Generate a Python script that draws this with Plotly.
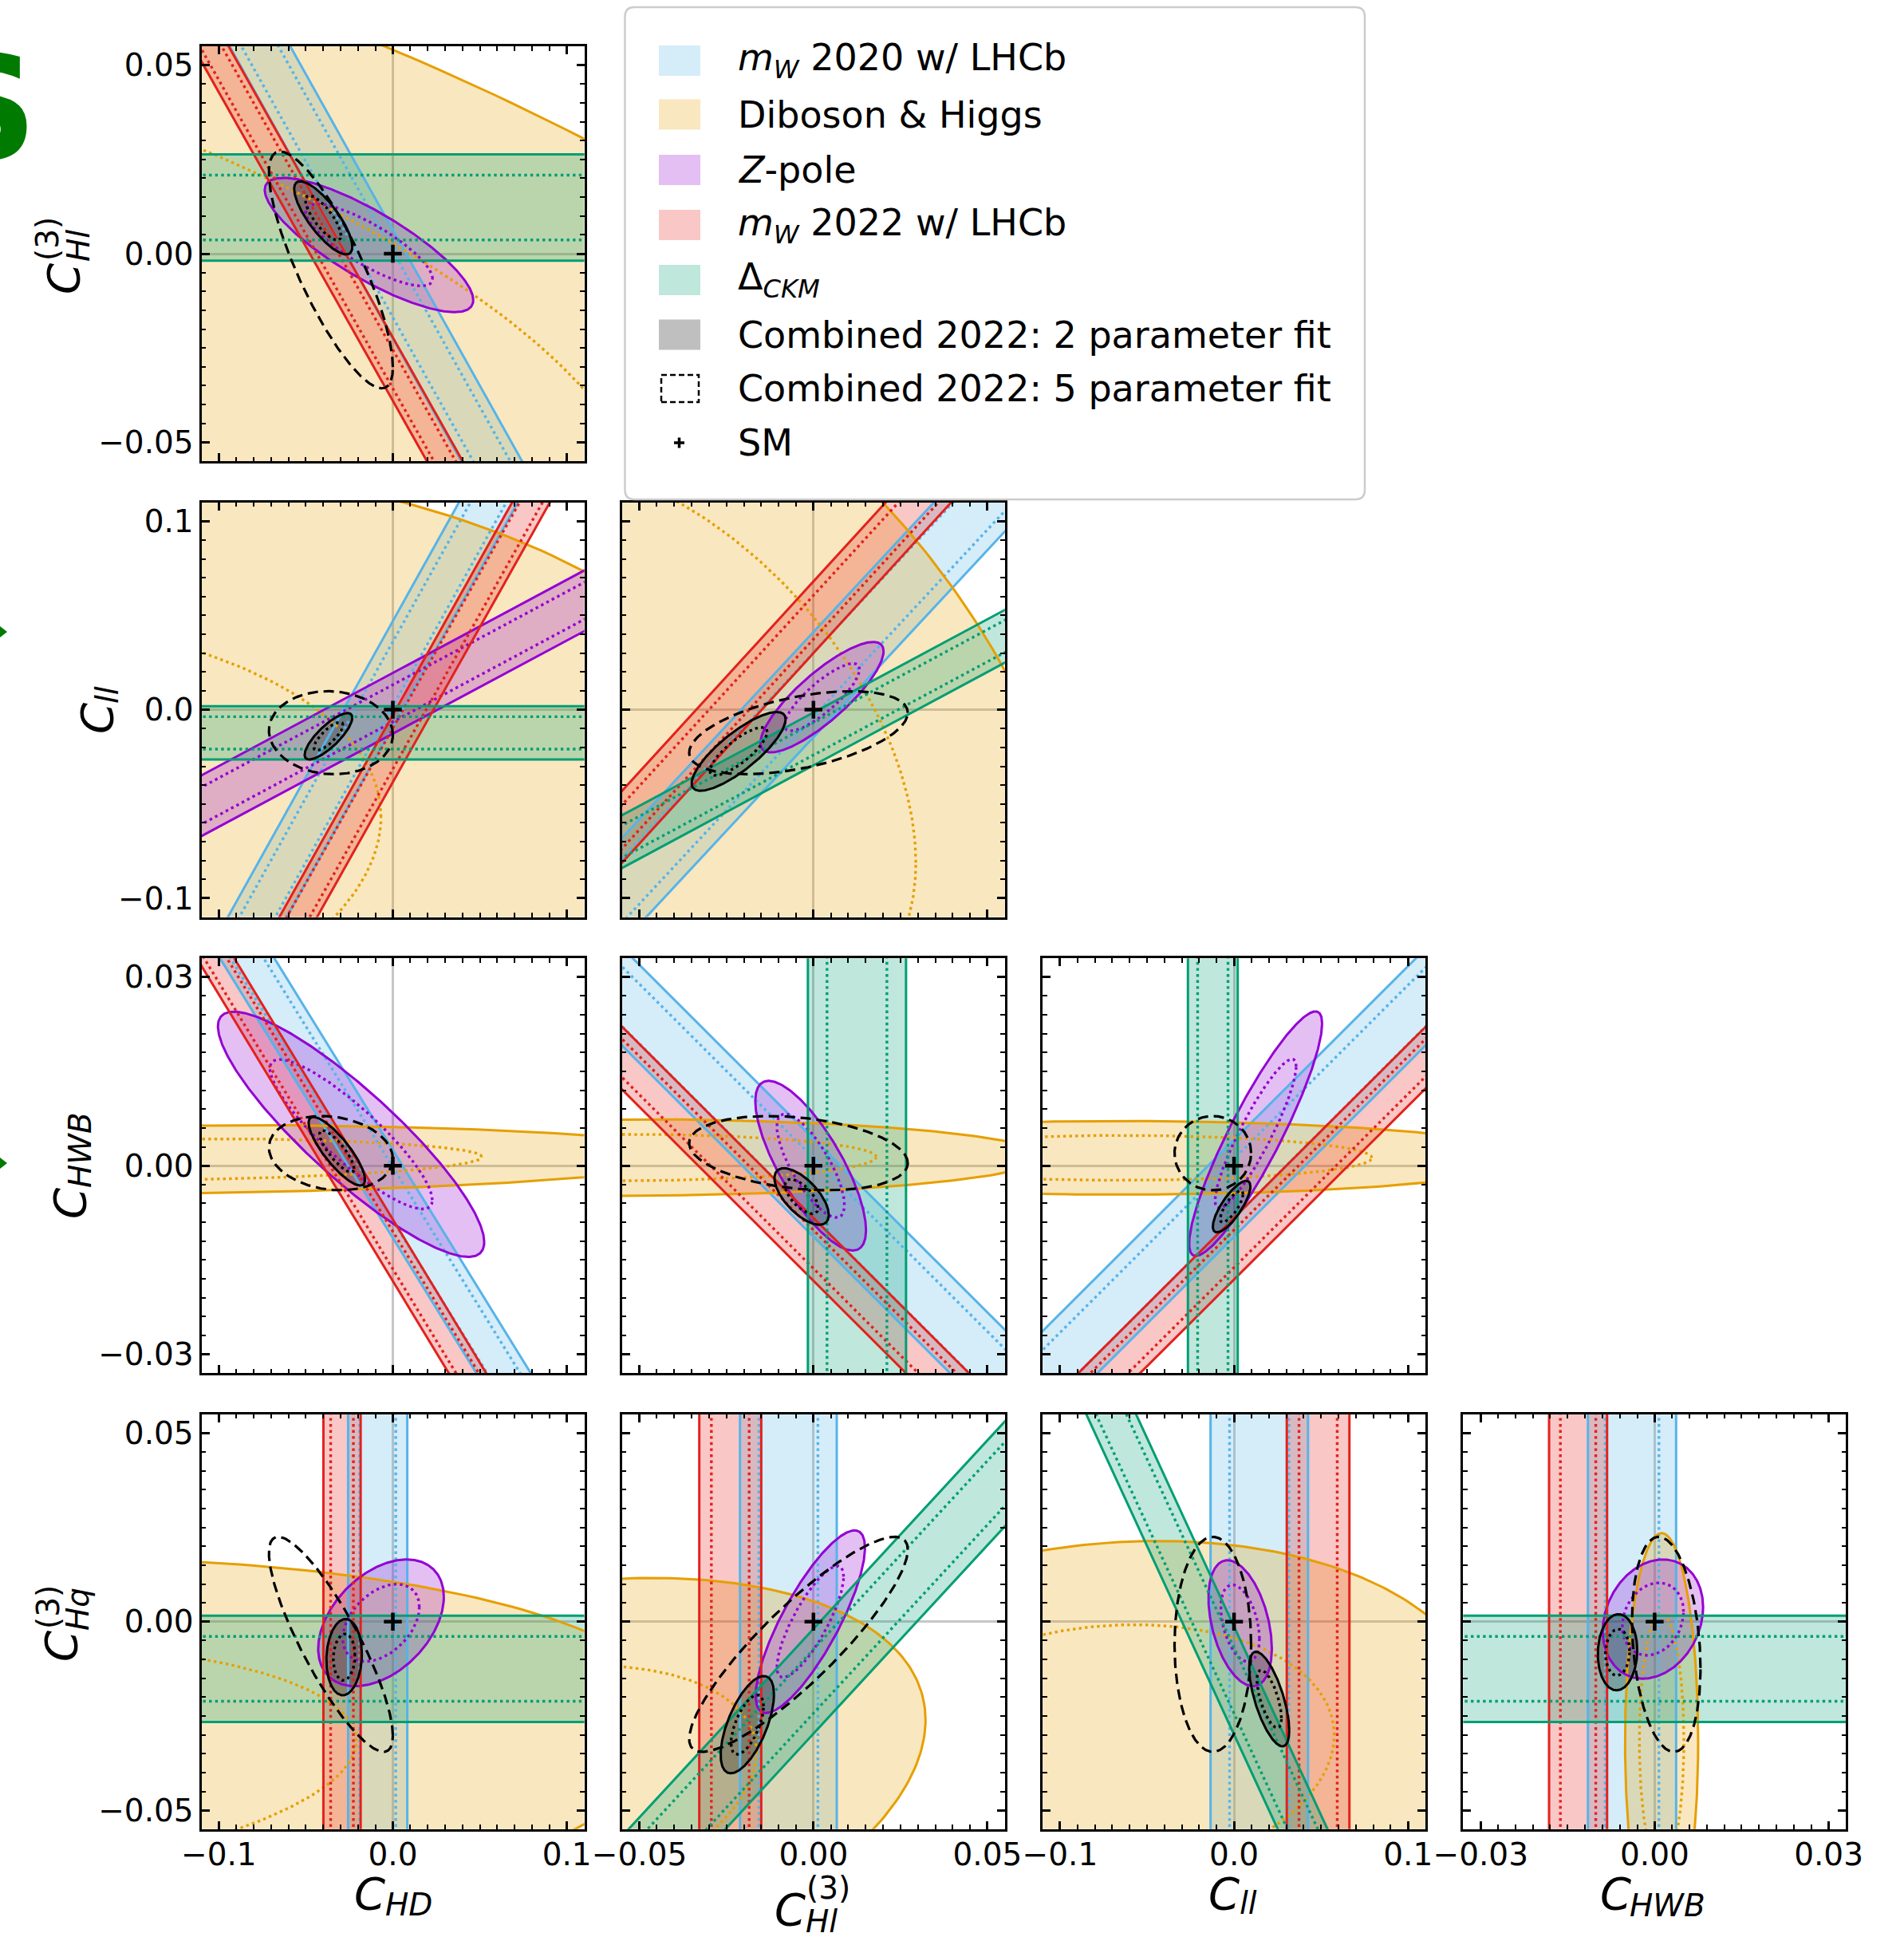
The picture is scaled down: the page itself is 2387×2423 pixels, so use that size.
import numpy as np
import plotly.graph_objects as go

FIG_W, FIG_H = 2387, 2423

# ---------------- axes / parameters ----------------
PARAM_NAMES = ["C_HD", "C_Hl3", "C_ll", "C_HWB", "C_Hq3"]
HALF_RANGE = [0.11, 0.055, 0.11, 0.033, 0.055]
MAJOR_TICKS = [[-0.1, 0.0, 0.1], [-0.05, 0.0, 0.05], [-0.1, 0.0, 0.1],
               [-0.03, 0.0, 0.03], [-0.05, 0.0, 0.05]]
MAJOR_TICK_LABELS = [["−0.1", "0.0", "0.1"], ["−0.05", "0.00", "0.05"],
                     ["−0.1", "0.0", "0.1"], ["−0.03", "0.00", "0.03"],
                     ["−0.05", "0.00", "0.05"]]
MINOR_STEP = [0.01, 0.005, 0.01, 0.003, 0.005]

COL_LEFT = [252.5, 779.8, 1307.1, 1834.4]
ROW_TOP = [58.0, 629.6, 1201.2, 1772.8]
PANEL_W, PANEL_H = 480.0, 520.0

INNER_SCALE = 0.61   # 68% contour relative to 95% contour

COL_MW20 = "#56B4E9"
COL_DIB = "#E69F00"
COL_Z = "#9400D3"
COL_MW22 = "#E3211C"
COL_CKM = "#009E73"
COL_COMB = "#000000"

# ---------------- data (keys: (x-param index, y-param index)) ----------------
# bands: (slope, intercept, half-width) ; slope None -> vertical band (centre, half-width)
MW2020_BANDS = {
    (0, 1): (-0.826, -0.0081, 0.0144),
    (0, 2): (1.656, 0.0190, 0.0280),
    (1, 2): (1.985, 0.0133, 0.0279),
    (0, 3): (-0.448, -0.0045, 0.0070),
    (1, 3): (-0.553, -0.0035, 0.0078),
    (2, 3): (0.2765, -0.0036, 0.0077),
    (0, 4): (None, -0.0087, 0.0170),
    (1, 4): (None, -0.0072, 0.0139),
    (2, 4): (None, 0.0145, 0.0280),
    (3, 4): (None, -0.0039, 0.0076),
}
MW2022_BANDS = {
    (0, 1): (-0.818, -0.0306, 0.0084),
    (0, 2): (1.644, -0.0206, 0.0178),
    (1, 2): (2.02, 0.0490, 0.0190),
    (0, 3): (-0.456, -0.01345, 0.0049),
    (1, 3): (-0.553, -0.0133, 0.0050),
    (2, 3): (0.276, -0.0132, 0.0049),
    (0, 4): (None, -0.0292, 0.0107),
    (1, 4): (None, -0.0239, 0.0089),
    (2, 4): (None, 0.0483, 0.0180),
    (3, 4): (None, -0.0132, 0.0050),
}
CKM_BANDS = {
    (0, 1): (0.0, 0.01225, 0.0141),
    (0, 2): (0.0, -0.0123, 0.0141),
    (1, 2): (0.99, -0.0155, 0.0140),
    (1, 3): (None, 0.0125, 0.0141),
    (2, 3): (None, -0.0122, 0.0143),
    (0, 4): (0.0, -0.0125, 0.0141),
    (1, 4): (1.0, -0.0158, 0.0139),
    (2, 4): (-1.0, -0.0156, 0.0143),
    (3, 4): (0.0, -0.0125, 0.0141),
}
ZPOLE_BANDS = {
    (0, 2): (0.494, 0.0034, 0.0161),
}
# ellipses: (centre x, centre y, x half-extent, y half-extent, correlation)
ZPOLE_ELLIPSES = {
    (0, 1): (-0.0137, 0.0023, 0.0599, 0.0178, -0.82),
    (1, 2): (0.00245, 0.00665, 0.0177, 0.0293, 0.83),
    (0, 3): (-0.024, 0.0050, 0.0765, 0.0195, -0.88),
    (1, 3): (-0.0008, 0.0, 0.0159, 0.0135, -0.76),
    (2, 3): (0.0124, 0.0051, 0.0382, 0.01945, 0.90),
    (0, 4): (-0.0068, -0.0003, 0.0361, 0.0168, 0.41),
    (1, 4): (-0.0009, 0.0, 0.0157, 0.0242, 0.81),
    (2, 4): (0.0035, -0.0004, 0.0182, 0.0167, -0.40),
    (3, 4): (-0.0003, 0.0007, 0.00865, 0.0158, 0.20),
}
DIBOSON_ELLIPSES = {
    (0, 1): (-0.270, -0.0159, 0.676, 0.1403, -0.595),
    (0, 2): (-0.342, -0.0803, 0.5495, 0.2179, 0.176),
    (1, 2): (-0.0458, -0.0149, 0.1233, 0.2416, -0.449),
    (0, 3): (-0.149, 0.0010, 0.328, 0.0055, 0.12),
    (1, 3): (-0.057, 0.0013, 0.123, 0.0061, 0.02),
    (2, 3): (-0.066, 0.00125, 0.238, 0.00585, 0.0),
    (0, 4): (-0.312, -0.0394, 0.4769, 0.0565, 0.226),
    (1, 4): (-0.0923, -0.0479, 0.1245, 0.0595, 0.367),
    (2, 4): (-0.0784, -0.0355, 0.2229, 0.0569, 0.156),
    (3, 4): (0.0012, -0.0316, 0.0063, 0.0551, 0.0),
}
COMB2_ELLIPSES = {
    (0, 1): (-0.040, 0.0095, 0.0167, 0.0097, -0.79),
    (0, 2): (-0.037, -0.0141, 0.0137, 0.0123, 0.80),
    (1, 2): (-0.0215, -0.0221, 0.0135, 0.0209, 0.81),
    (0, 3): (-0.0322, 0.0023, 0.0162, 0.00545, -0.83),
    (1, 3): (-0.0034, -0.0049, 0.0078, 0.0045, -0.65),
    (2, 3): (-0.0014, -0.0065, 0.0108, 0.0041, 0.78),
    (0, 4): (-0.028, -0.0094, 0.0102, 0.0101, 0.08),
    (1, 4): (-0.019, -0.0273, 0.00766, 0.0129, 0.62),
    (2, 4): (0.0202, -0.0205, 0.0115, 0.01255, -0.66),
    (3, 4): (-0.0064, -0.0081, 0.0034, 0.0101, 0.05),
}
COMB5_MEAN = [-0.0356, -0.0043, -0.0122, 0.0020, -0.0060]
COMB5_HALF = [0.0356, 0.0314, 0.0220, 0.0059, 0.0285]
COMB5_CORR = [
    [1.00, -0.82, -0.05, -0.15, -0.85],
    [-0.82, 1.00, 0.48, -0.27, 0.88],
    [-0.05, 0.48, 1.00, 0.00, 0.00],
    [-0.15, -0.27, 0.00, 1.00, -0.22],
    [-0.85, 0.88, 0.00, -0.22, 1.00],
]

# ---------------- helpers ----------------
T = np.linspace(0, 2 * np.pi, 361)


def rgba(hexc, a):
    h = hexc.lstrip('#')
    return "rgba(%d,%d,%d,%s)" % (int(h[0:2], 16), int(h[2:4], 16), int(h[4:6], 16), a)


def ellipse_xy(p, s=1.0):
    cx, cy, X, Y, rho = p
    x = cx + s * X * np.cos(T)
    y = cy + s * Y * (rho * np.cos(T) + np.sqrt(1 - rho * rho) * np.sin(T))
    return list(x), list(y)


def band_edges(p, s, xr, yr):
    m, c, w = p
    if m is None:
        ys = [-4 * yr, 4 * yr]
        return ([c + s * w] * 2, ys), ([c - s * w] * 2, ys)
    xs = [-4 * xr, 4 * xr]
    return (xs, [m * v + c + s * w for v in xs]), (xs, [m * v + c - s * w for v in xs])


fig = go.Figure()
LW = 3.0
DOT_W = 3.4
DOT = "3.4px,4.2px"


def region_traces(xa, ya, kind, p, color, xr, yr, fill_rgba=None):
    """returns (fill trace, [line traces])"""
    if kind == 'ellipse':
        x, y = ellipse_xy(p)
        xi, yi = ellipse_xy(p, INNER_SCALE)
        xo, yo = x, y
    else:
        (x1, y1), (x2, y2) = band_edges(p, 1.0, xr, yr)
        x = x1 + x2[::-1] + x1[:1]
        y = y1 + y2[::-1] + y1[:1]
        xo = x1 + [None] + x2
        yo = y1 + [None] + y2
        (a1, b1), (a2, b2) = band_edges(p, INNER_SCALE, xr, yr)
        xi = a1 + [None] + a2
        yi = b1 + [None] + b2
    f = go.Scatter(x=x, y=y, mode='lines', fill='toself',
                   fillcolor=fill_rgba or rgba(color, 0.25),
                   line=dict(width=0, color='rgba(0,0,0,0)'),
                   xaxis=xa, yaxis=ya, hoverinfo='skip', showlegend=False)
    lo = go.Scatter(x=xo, y=yo, mode='lines', line=dict(color=color, width=LW),
                    xaxis=xa, yaxis=ya, hoverinfo='skip', showlegend=False)
    li = go.Scatter(x=xi, y=yi, mode='lines', line=dict(color=color, width=DOT_W, dash=DOT),
                    xaxis=xa, yaxis=ya, hoverinfo='skip', showlegend=False)
    return f, [lo, li]


def minor_vals(k):
    st = MINOR_STEP[k]
    nmax = int(HALF_RANGE[k] / st + 1e-9)
    return [round(st * q, 6) for q in range(-nmax, nmax + 1)]


layout_axes = {}
panel_index = 0
for i in range(1, 5):
    for j in range(0, i):
        panel_index += 1
        n = panel_index
        xa = 'x' if n == 1 else 'x%d' % n
        ya = 'y' if n == 1 else 'y%d' % n
        xr, yr = HALF_RANGE[j], HALF_RANGE[i]
        key = (j, i)
        fills, lines = [], []
        specs = [
            (MW2020_BANDS, 'band', COL_MW20, None),
            (DIBOSON_ELLIPSES, 'ellipse', COL_DIB, None),
            (ZPOLE_BANDS, 'band', COL_Z, None),
            (ZPOLE_ELLIPSES, 'ellipse', COL_Z, None),
            (MW2022_BANDS, 'band', COL_MW22, None),
            (CKM_BANDS, 'band', COL_CKM, None),
            (COMB2_ELLIPSES, 'ellipse', COL_COMB, "rgba(0,0,0,0.25)"),
        ]
        for table, kind, col, frgba in specs:
            if key in table:
                f, ls = region_traces(xa, ya, kind, table[key], col, xr, yr, frgba)
                fills.append(f)
                lines.extend(ls)
        for tr in fills + lines:
            fig.add_trace(tr)
        p5 = (COMB5_MEAN[j], COMB5_MEAN[i], COMB5_HALF[j], COMB5_HALF[i], COMB5_CORR[j][i])
        x5, y5 = ellipse_xy(p5)
        fig.add_trace(go.Scatter(x=x5, y=y5, mode='lines', line=dict(color='black', width=3.2, dash='13px,7px'),
                                 xaxis=xa, yaxis=ya, hoverinfo='skip', showlegend=False))
        fig.add_trace(go.Scatter(x=[0.0], y=[0.0], mode='markers',
                                 marker=dict(symbol='cross-thin', size=16, color='black',
                                             line=dict(width=4.5, color='black')),
                                 xaxis=xa, yaxis=ya, hoverinfo='skip', showlegend=False))

        x0 = COL_LEFT[j] / FIG_W
        x1 = (COL_LEFT[j] + PANEL_W) / FIG_W
        y1 = 1 - ROW_TOP[i - 1] / FIG_H
        y0 = 1 - (ROW_TOP[i - 1] + PANEL_H) / FIG_H

        common = dict(showgrid=False, zeroline=True, zerolinecolor='rgba(128,128,128,0.45)',
                      zerolinewidth=2.5, showline=True, linecolor='black', linewidth=3,
                      mirror='allticks', ticks='inside', ticklen=10, tickwidth=2.5,
                      tickcolor='black', fixedrange=True, automargin=False,
                      tickfont=dict(family='DejaVu Sans', size=39, color='black'))
        layout_axes['xaxis' if n == 1 else 'xaxis%d' % n] = dict(
            common, domain=[x0, x1], range=[-xr, xr], anchor=ya,
            tickmode='array', tickvals=MAJOR_TICKS[j], ticktext=MAJOR_TICK_LABELS[j],
            showticklabels=(i == 4), ticklabelstandoff=-5,
            minor=dict(ticks='inside', ticklen=5.5, tickwidth=2, tickcolor='black',
                       tickmode='array', tickvals=minor_vals(j), showgrid=False))
        layout_axes['yaxis' if n == 1 else 'yaxis%d' % n] = dict(
            common, domain=[y0, y1], range=[-yr, yr], anchor=xa,
            tickmode='array', tickvals=MAJOR_TICKS[i], ticktext=MAJOR_TICK_LABELS[i],
            showticklabels=(j == 0), ticklabelstandoff=-1,
            minor=dict(ticks='inside', ticklen=5.5, tickwidth=2, tickcolor='black',
                       tickmode='array', tickvals=minor_vals(i), showgrid=False))

fig.update_layout(**layout_axes)


def px2paper(px, py):
    return px / FIG_W, 1 - py / FIG_H


annotations = []
shapes = []


def ann(text, px, py, size, angle=0, xanchor='center', yanchor='middle', color='black',
        family='DejaVu Sans'):
    x, y = px2paper(px, py)
    annotations.append(dict(text=text, x=x, y=y, xref='paper', yref='paper', showarrow=False,
                            xanchor=xanchor, yanchor=yanchor, textangle=angle,
                            font=dict(family=family, size=size, color=color)))


# axis labels
X_LABEL_PARTS = [
    [("<i>C</i>", 463, 2373, 56), ("<i>HD</i>", 512, 2387, 39)],
    [("<i>C</i>", 990, 2393, 56), ("(3)", 1038, 2366, 39), ("<i>Hl</i>", 1030, 2408, 39)],
    [("<i>C</i>", 1534, 2373, 56), ("<i>ll</i>", 1565, 2385, 39)],
    [("<i>C</i>", 2025, 2373, 56), ("<i>HWB</i>", 2090, 2388, 39)],
]
Y_LABEL_PARTS = [
    [("<i>C</i>", 79, 350, 56), ("(3)", 60, 300, 39), ("<i>Hl</i>", 98, 308, 39)],
    [("<i>C</i>", 121, 901, 56), ("<i>ll</i>", 134, 871, 39)],
    [("<i>C</i>", 87, 1509, 56), ("<i>HWB</i>", 100, 1442, 39)],
    [("<i>C</i>", 76, 2064, 56), ("(3)", 60, 2015, 39), ("<i>Hq</i>", 97, 2017, 39)],
]
for parts in X_LABEL_PARTS:
    for t, px, py, s in parts:
        ann(t, px, py, s)
for parts in Y_LABEL_PARTS:
    for t, px, py, s in parts:
        ann(t, px, py, s, angle=-90)

# legend
LEGEND_LABELS = ["<i>m</i><sub><i>W</i></sub> 2020 w/ LHCb", "Diboson &amp; Higgs", "<i>Z</i>-pole",
                 "<i>m</i><sub><i>W</i></sub> 2022 w/ LHCb", "Δ<sub><i>CKM</i></sub>",
                 "Combined 2022: 2 parameter fit", "Combined 2022: 5 parameter fit", "SM"]
LEGEND_PATCH = [rgba(COL_MW20, 0.25), rgba(COL_DIB, 0.25), rgba(COL_Z, 0.25), rgba(COL_MW22, 0.25),
                rgba(COL_CKM, 0.25), "rgba(0,0,0,0.25)", None, None]
LEG_ROW_Y = [76, 143.5, 213, 282, 351, 419.5, 487, 555]
LEG_BOX = (783.5, 9, 1711, 626)

bx0, by0, bx1, by1 = LEG_BOX
r = 12
X0, Y0 = px2paper(bx0, by0)
X1, Y1 = px2paper(bx1, by1)
rx, ry = r / FIG_W, r / FIG_H
path = ("M %f,%f L %f,%f Q %f,%f %f,%f L %f,%f Q %f,%f %f,%f L %f,%f Q %f,%f %f,%f L %f,%f Q %f,%f %f,%f Z" % (
    X0 + rx, Y0, X1 - rx, Y0, X1, Y0, X1, Y0 - ry, X1, Y1 + ry, X1, Y1, X1 - rx, Y1,
    X0 + rx, Y1, X0, Y1, X0, Y1 + ry, X0, Y0 - ry, X0, Y0, X0 + rx, Y0))
shapes.append(dict(type='path', path=path, xref='paper', yref='paper',
                   line=dict(color='rgb(204,204,204)', width=2.5), fillcolor='white', layer='above'))
for k, (lab, col, cy) in enumerate(zip(LEGEND_LABELS, LEGEND_PATCH, LEG_ROW_Y)):
    if k < 6:
        a0 = px2paper(826, cy - 19)
        a1 = px2paper(878, cy + 19)
        shapes.append(dict(type='rect', xref='paper', yref='paper', x0=a0[0], y0=a1[1], x1=a1[0], y1=a0[1],
                           fillcolor=col, line=dict(width=0), layer='above'))
    elif k == 6:
        a0 = px2paper(829, cy - 17)
        a1 = px2paper(876, cy + 17)
        shapes.append(dict(type='rect', xref='paper', yref='paper', x0=a0[0], y0=a1[1], x1=a1[0], y1=a0[1],
                           fillcolor='rgba(0,0,0,0)', line=dict(width=2.5, color='black', dash='7px,4px'),
                           layer='above'))
    else:
        for (ax0, ay0, ax1, ay1) in [(845, cy, 858, cy), (851.5, cy - 6.5, 851.5, cy + 6.5)]:
            p0 = px2paper(ax0, ay0)
            p1 = px2paper(ax1, ay1)
            shapes.append(dict(type='line', xref='paper', yref='paper', x0=p0[0], y0=p0[1], x1=p1[0], y1=p1[1],
                               line=dict(color='black', width=3.5), layer='above'))
    ann(lab, 923, cy, 46, xanchor='left')

# partial green glyphs at the left border
ann("<b>S</b>", 49, 135, 180, xanchor='right', color='#007A00')
for cy in (792, 1458):
    p0 = px2paper(0, cy - 7)
    p1 = px2paper(9, cy)
    p2 = px2paper(0, cy + 7)
    shapes.append(dict(type='path', xref='paper', yref='paper',
                       path="M %f,%f L %f,%f L %f,%f Z" % (p0[0], p0[1], p1[0], p1[1], p2[0], p2[1]),
                       fillcolor='#007A00', line=dict(width=0), layer='above'))

fig.update_layout(width=FIG_W, height=FIG_H, margin=dict(l=0, r=0, t=0, b=0, autoexpand=False),
                  paper_bgcolor='white', plot_bgcolor='white', showlegend=False,
                  annotations=annotations, shapes=shapes)
fig.write_html("out.html")
